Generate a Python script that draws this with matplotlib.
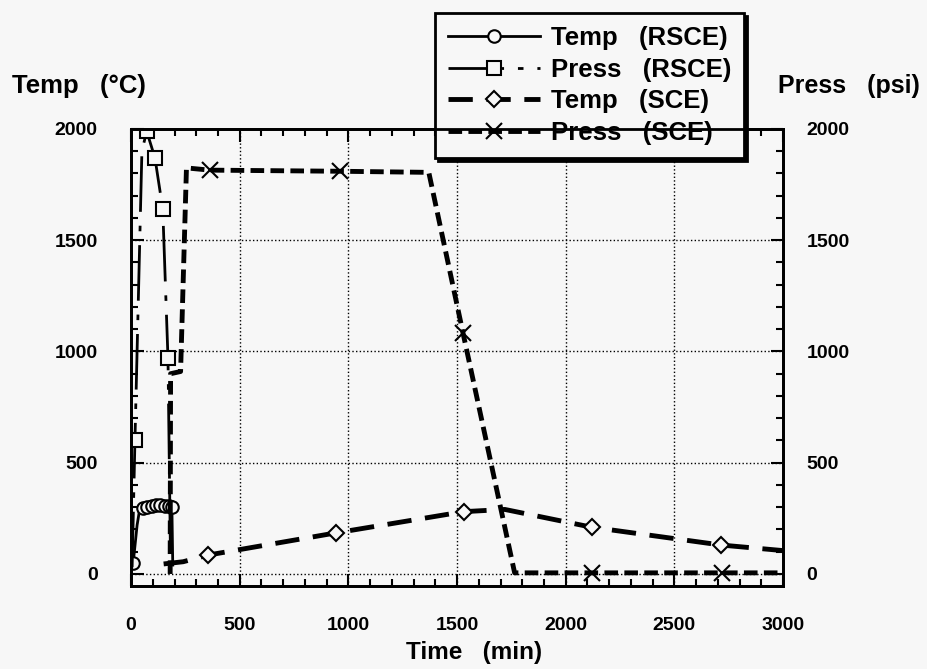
import matplotlib
matplotlib.use('Agg')
import matplotlib.pyplot as plt
from matplotlib.ticker import MultipleLocator

plt.rcParams['font.family'] = ['Liberation Sans', 'DejaVu Sans']
plt.rcParams['font.weight'] = 'bold'

# RSCE run
rsce_temp_t = [10, 28, 38, 55, 75, 95, 115, 135, 155, 175, 188, 192]
rsce_temp = [50, 220, 280, 295, 300, 305, 310, 310, 305, 305, 300, 40]
rsce_temp_marks = [0, 3, 4, 5, 6, 7, 8, 9, 10]

rsce_press_t = [5, 18, 50, 72, 110, 146, 170, 182]
rsce_press = [30, 600, 1900, 1990, 1870, 1640, 970, 40]
rsce_press_marks = [1, 3, 4, 5, 6]

# SCE run
sce_temp_t = [150, 240, 355, 945, 1530, 1720, 2120, 2715, 3000]
sce_temp = [45, 55, 85, 185, 280, 290, 210, 130, 105]
sce_temp_marks = [2, 3, 4, 6, 7]

sce_press_t = [180, 182, 228, 255, 363, 961, 1370, 1527, 1765, 2123, 2717, 3000]
sce_press = [0, 900, 910, 1825, 1815, 1810, 1805, 1085, 5, 5, 5, 5]
sce_press_marks = [4, 5, 7, 9, 10]

bg = '#f7f7f7'
fig = plt.figure(figsize=(9.28, 6.69), dpi=100, facecolor=bg)
ax = fig.add_axes([0.1412, 0.1241, 0.7026, 0.6831], facecolor=bg)

l1, = ax.plot(rsce_temp_t, rsce_temp, color='k', lw=2, marker='o', ms=9,
              mfc=bg, mec='k', mew=1.5, markevery=rsce_temp_marks,
              label='Temp   (RSCE)')
l2, = ax.plot(rsce_press_t, rsce_press, color='k', lw=2, marker='s', ms=10,
              mfc=bg, mec='k', mew=1.5, markevery=rsce_press_marks,
              label='Press   (RSCE)')
l2.set_dashes([20, 5, 2, 5])
l3, = ax.plot(sce_temp_t, sce_temp, color='k', lw=3.5, marker='D', ms=8,
              mfc=bg, mec='k', mew=1.5, markevery=sce_temp_marks,
              label='Temp   (SCE)')
l3.set_dashes([5, 2.8])
l4, = ax.plot(sce_press_t, sce_press, color='k', lw=3.5, marker='x', ms=11,
              mec='k', mew=1.5, markevery=sce_press_marks,
              label='Press   (SCE)')
l4.set_dashes([2.8, 1.3])

ax.set_xlim(0, 3000)
ax.set_ylim(-54, 2000)
ax.xaxis.set_major_locator(MultipleLocator(500))
ax.xaxis.set_minor_locator(MultipleLocator(100))
ax.yaxis.set_minor_locator(MultipleLocator(100))
ax.set_yticks([0, 500, 1000, 1500, 2000])
ax.grid(True, which='major', color='k', ls=':', lw=1)
for s in ax.spines.values():
    s.set_linewidth(2)

ax.tick_params(which='both', direction='in', top=True, bottom=True,
               left=True, right=False, labelsize=14, width=1.5)
ax.tick_params(which='major', length=9)
ax.tick_params(which='minor', length=5)
ax.tick_params(axis='x', pad=22)
ax.tick_params(axis='y', pad=24)

ax2 = ax.twinx()
ax2.set_ylim(ax.get_ylim())
ax2.set_yticks([0, 500, 1000, 1500, 2000])
ax2.yaxis.set_minor_locator(MultipleLocator(100))
ax2.tick_params(which='both', direction='in', labelsize=14, width=1.5, pad=17)
ax2.tick_params(which='major', length=9)
ax2.tick_params(which='minor', length=5)
for s in ax2.spines.values():
    s.set_linewidth(2)

fig.text(0.013, 0.871, 'Temp   (°C)', fontsize=18.5, ha='left', va='center')
fig.text(0.838, 0.871, 'Press   (psi)', fontsize=18, ha='left', va='center')
fig.text(0.511, 0.025, 'Time   (min)', fontsize=17.5, ha='center', va='center')

leg = ax.legend(handles=[l1, l2, l3, l4], loc='upper left',
                bbox_to_anchor=(435 / 928, 1 - 13 / 669),
                bbox_transform=fig.transFigure, fontsize=18.5, numpoints=1,
                handlelength=3.6, handletextpad=0.4, labelspacing=0.3,
                borderpad=0.5, borderaxespad=0, fancybox=False,
                framealpha=1, edgecolor='k', facecolor=bg,
                shadow={'color': 'k', 'alpha': 1})
leg.get_frame().set_linewidth(2)
leg.set_zorder(10)

fig.savefig('out.png', dpi=100, facecolor=bg)
